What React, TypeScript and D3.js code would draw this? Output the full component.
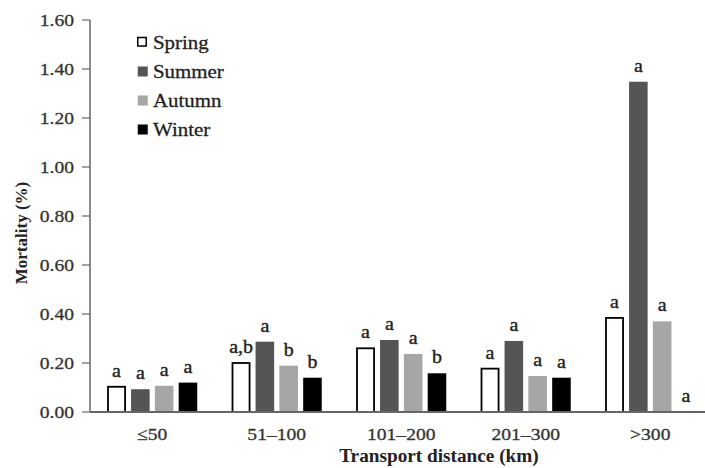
import React from "react";
import * as d3 from "d3";

const categories = ["≤50", "51–100", "101–200", "201–300", ">300"];
const seasons = ["Spring", "Summer", "Autumn", "Winter"];
const spring = [0.103, 0.2, 0.26, 0.177, 0.384];
const summer = [0.093, 0.287, 0.294, 0.29, 1.348];
const autumn = [0.107, 0.189, 0.237, 0.147, 0.37];
const winter = [0.12, 0.14, 0.158, 0.14, 0.0];
const springLetters = ["a", "a,b", "a", "a", "a"];
const summerLetters = ["a", "a", "a", "a", "a"];
const autumnLetters = ["a", "b", "a", "a", "a"];
const winterLetters = ["a", "b", "b", "a", "a"];
const yTicks = [0, 0.2, 0.4, 0.6, 0.8, 1.0, 1.2, 1.4, 1.6];

const seriesValues = [spring, summer, autumn, winter];
const seriesLetters = [springLetters, summerLetters, autumnLetters, winterLetters];
const fills = ["#ffffff", "#555555", "#a6a6a6", "#000000"];
const strokes = ["#000000", "none", "none", "none"];

const W = 705;
const H = 468;
const font = "'Liberation Serif', 'Times New Roman', serif";

const stretch = (cx: number, k: number) => `translate(${cx * (1 - k)},0) scale(${k},1)`;

export default function App() {
  const x0 = d3.scaleBand<string>().domain(categories).range([90, 712.5]).paddingInner(0).paddingOuter(0);
  const x1 = d3.scaleBand<string>().domain(seasons).range([0, 90]).paddingInner(0.22).paddingOuter(0);
  const y = d3.scaleLinear().domain([0, 1.6]).range([412, 20]);
  const groupOffset = (x0.bandwidth() - 90) / 2;

  return (
    <div style={{ position: "absolute", left: 0, top: 0 }}>
      <svg width={W} height={H} style={{ display: "block", background: "#fff" }} fontFamily={font}>
        {/* y axis */}
        <line x1={90} x2={90} y1={y(0)} y2={y(1.6)} stroke="#666" strokeWidth={1.5} />
        {yTicks.map((t) => (
          <g key={t}>
            <line x1={82} x2={90} y1={y(t)} y2={y(t)} stroke="#666" strokeWidth={1.2} />
            <text x={74} y={y(t)} dy="0.35em" textAnchor="end" fontSize={17.5} fill="#333" stroke="#333" strokeWidth={0.3} transform={stretch(74, 1.12)}>
              {d3.format(".2f")(t)}
            </text>
          </g>
        ))}
        {/* bars */}
        {categories.map((c, ci) => (
          <g key={c} transform={`translate(${(x0(c) as number) + groupOffset},0)`}>
            {seasons.map((s, si) => {
              const v = seriesValues[si][ci];
              const bx = x1(s) as number;
              const bw = x1.bandwidth();
              const cx = bx + bw / 2;
              return (
                <g key={s}>
                  {v > 0 && (
                    <rect
                      x={bx + (strokes[si] !== "none" ? 0.75 : 0)}
                      y={y(v)}
                      width={bw - (strokes[si] !== "none" ? 1.5 : 0)}
                      height={y(0) - y(v)}
                      fill={fills[si]}
                      stroke={strokes[si]}
                      strokeWidth={1.8}
                    />
                  )}
                  <text
                    x={cx}
                    y={y(v) - 10}
                    textAnchor="middle"
                    fontSize={19}
                    fill="#222"
                    stroke="#222"
                    strokeWidth={0.4}
                    transform={stretch(cx, 1.05)}
                  >
                    {seriesLetters[si][ci]}
                  </text>
                </g>
              );
            })}
          </g>
        ))}
        {/* x axis */}
        <line x1={90} x2={W} y1={y(0)} y2={y(0)} stroke="#666" strokeWidth={1.8} />
        {categories.map((c) => {
          const cx = (x0(c) as number) + x0.bandwidth() / 2;
          return (
            <text key={c} x={cx} y={440} textAnchor="middle" fontSize={17.5} fill="#333" stroke="#333" strokeWidth={0.3} transform={stretch(cx, 1.12)}>
              {c}
            </text>
          );
        })}
        <text x={439} y={462} textAnchor="middle" fontSize={18} fontWeight="bold" fill="#222" transform={stretch(439, 1.07)}>
          Transport distance (km)
        </text>
        <text
          transform={`translate(27,233) rotate(-90)`}
          textAnchor="middle"
          fontSize={17}
          fontWeight="bold"
          fill="#222"
        >
          Mortality (%)
        </text>
        {/* legend */}
        {seasons.map((s, si) => (
          <g key={s} transform={`translate(137,${42 + si * 29})`}>
            <rect
              x={0.75}
              y={-4.5}
              width={strokes[si] !== "none" ? 8.5 : 10}
              height={strokes[si] !== "none" ? 8.5 : 10}
              fill={fills[si]}
              stroke={strokes[si]}
              strokeWidth={1.5}
            />
            <text x={16} y={0} dy="0.35em" fontSize={19} fill="#222" stroke="#222" strokeWidth={0.3} transform={stretch(16, 1.1)}>
              {s}
            </text>
          </g>
        ))}
      </svg>
    </div>
  );
}
